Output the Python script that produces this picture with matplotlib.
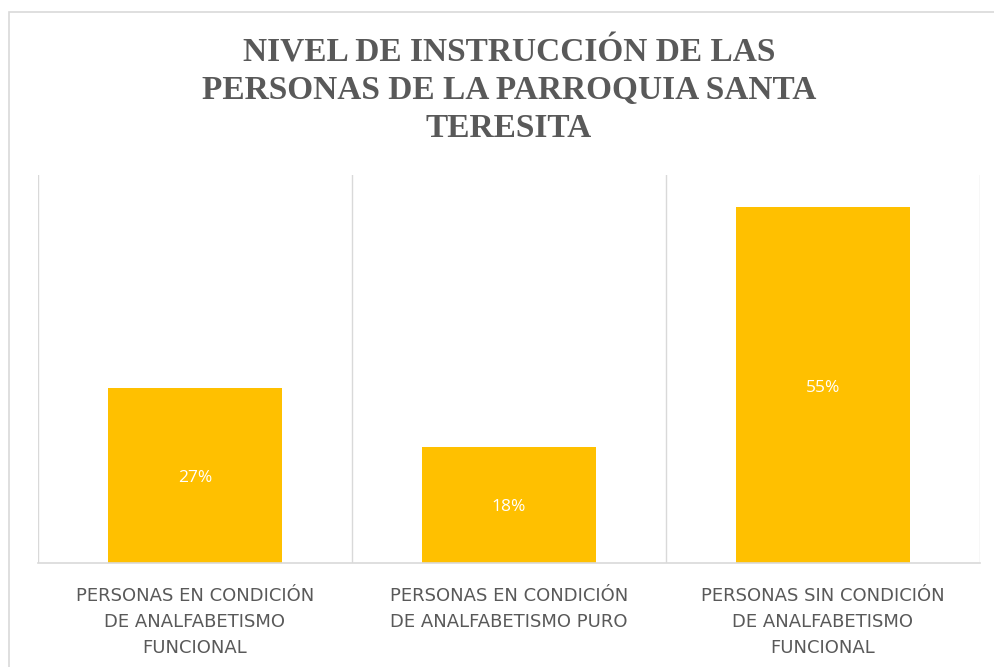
import numpy as np
import matplotlib.pyplot as plt
from matplotlib.patches import Rectangle

# data
categories = [
    "PERSONAS EN CONDICIÓN\nDE ANALFABETISMO\nFUNCIONAL",
    "PERSONAS EN CONDICIÓN\nDE ANALFABETISMO PURO",
    "PERSONAS SIN CONDICIÓN\nDE ANALFABETISMO\nFUNCIONAL",
]
values = [27, 18, 55]
labels = ["27%", "18%", "55%"]

title = "NIVEL DE INSTRUCCIÓN DE LAS\nPERSONAS DE LA PARROQUIA SANTA\nTERESITA"

grid_color = "#D9D9D9"
text_color = "#595959"
bar_color = "#FFC000"

fig = plt.figure(figsize=(9.95, 6.67), dpi=100)
ax = fig.add_axes([38 / 995, 1 - 563 / 667, (980 - 38) / 995, (563 - 175) / 667])

# outer chart border (cropped on the right and bottom)
fig.add_artist(Rectangle((9 / 995, -0.2), 1.2, 1.2 - 12 / 667, transform=fig.transFigure,
                         fill=False, edgecolor=grid_color, linewidth=1.2))

x = np.arange(len(categories))
bars = ax.bar(x, values, width=0.557, color=bar_color, zorder=2)

for xi, v, lab in zip(x, values, labels):
    ax.text(xi, v / 2 - 0.4, lab, ha="center", va="center", color="white",
            fontsize=12.5, family="Open Sans")

ax.set_xlim(-0.5, 2.5)
ax.set_ylim(0, 60)
ax.set_yticks([])
ax.set_xticks(x)
ax.set_xticklabels(categories, fontsize=13, family="DejaVu Sans", color=text_color,
                   linespacing=1.6)
ax.tick_params(axis="x", length=0, pad=17)

# vertical separators between categories
for b in np.arange(-0.5, 3, 1):
    ax.axvline(b, color=grid_color, linewidth=1, zorder=1)

for s in ["top", "left", "right"]:
    ax.spines[s].set_visible(False)
ax.spines["bottom"].set_color(grid_color)
ax.spines["bottom"].set_linewidth(1.2)

fig.text(509 / 995, 1 - 38 / 667, title, ha="center", va="top", fontsize=24,
         fontweight="bold", family="Liberation Serif", color=text_color,
         linespacing=1.27)

plt.savefig("out.png", dpi=100)
